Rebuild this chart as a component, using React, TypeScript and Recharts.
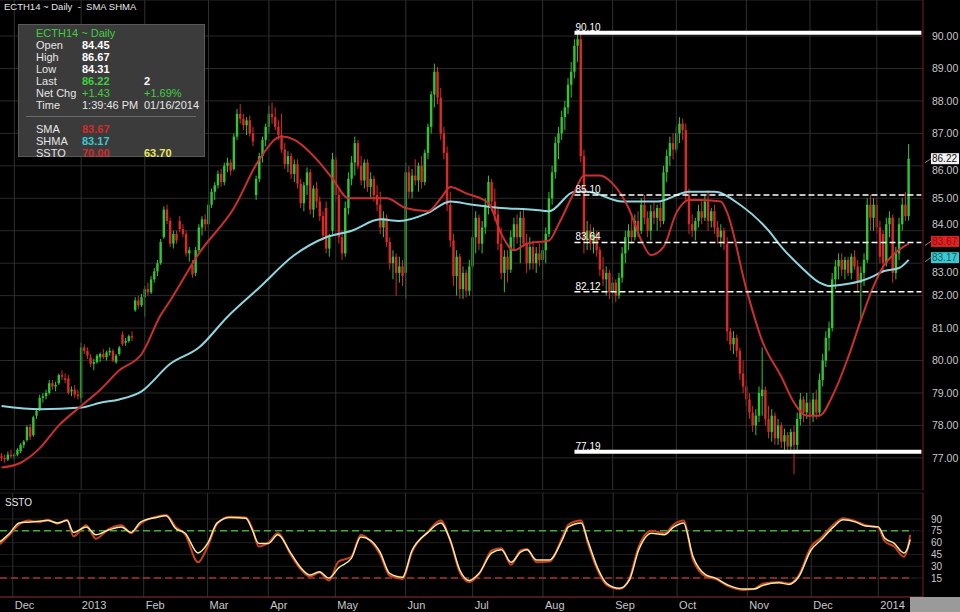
import React from 'react';
import {
  ComposedChart, Bar, Line, XAxis, YAxis, CartesianGrid, ReferenceLine,
} from 'recharts';

// daily candles [open, high, low, close], one array per month
const nov12 = [
  [77.05, 77.15, 76.9, 77.0], [77.0, 77.1, 76.85, 76.95], [76.95, 77.2, 76.9, 77.1], [77.1, 77.25, 77.0, 77.05],
];
const dec12 = [
  [77.05, 77.15, 76.95, 77.1], [77.1, 77.3, 77.05, 77.25], [77.2, 77.45, 77.15, 77.4], [77.4, 77.55, 77.3, 77.5],
  [77.55, 78.0, 77.5, 77.95], [77.95, 78.05, 77.55, 77.65], [77.7, 78.3, 77.65, 78.25], [78.3, 78.5, 78.2, 78.45],
  [78.5, 78.95, 78.45, 78.85], [78.85, 79.0, 78.7, 78.9], [78.9, 79.1, 78.8, 79.0], [79.0, 79.4, 78.95, 79.3],
  [79.3, 79.4, 79.1, 79.2], [79.2, 79.35, 79.05, 79.25], [79.3, 79.6, 79.25, 79.55], [79.55, 79.7, 79.4, 79.5],
  [79.45, 79.6, 79.3, 79.4], [79.45, 79.55, 78.95, 79.0], [79.05, 79.2, 78.9, 79.1], [79.1, 79.25, 78.85, 78.95],
  [78.95, 79.1, 78.8, 78.9],
];
const jan13 = [
  [78.85, 80.55, 78.7, 80.4], [80.4, 80.5, 80.2, 80.3], [80.3, 80.4, 80.05, 80.15], [80.1, 80.2, 79.8, 79.9],
  [79.9, 80.05, 79.7, 79.95], [79.95, 80.2, 79.9, 80.15], [80.1, 80.25, 79.95, 80.2], [80.2, 80.35, 80.05, 80.1],
  [80.1, 80.3, 80.0, 80.25], [80.25, 80.4, 80.15, 80.3], [80.3, 80.35, 79.95, 80.0], [79.95, 80.2, 79.9, 80.15],
  [80.2, 80.45, 80.15, 80.4], [80.8, 80.9, 80.45, 80.5], [80.55, 80.7, 80.45, 80.6], [80.6, 80.8, 80.55, 80.75],
  [80.75, 80.9, 80.6, 80.7], [81.55, 81.95, 81.5, 81.85], [81.85, 82.0, 81.6, 81.7], [81.7, 82.05, 81.65, 81.95],
];
const feb13 = [
  [81.95, 82.3, 81.35, 82.2], [82.2, 82.4, 82.0, 82.1], [82.1, 82.6, 82.05, 82.5], [82.5, 82.85, 82.4, 82.75],
  [82.75, 83.1, 82.6, 83.0], [83.0, 83.75, 82.95, 83.65], [83.8, 84.75, 83.75, 84.65], [84.65, 84.8, 84.2, 84.3],
  [84.3, 84.4, 83.5, 83.6], [83.6, 84.0, 83.45, 83.9], [83.9, 84.0, 83.6, 83.7], [84.3, 84.45, 83.95, 84.05],
  [84.05, 84.2, 83.8, 83.9], [83.9, 84.0, 83.2, 83.3], [83.3, 83.5, 83.05, 83.4], [82.95, 83.1, 82.55, 82.65],
  [82.7, 83.5, 82.6, 83.4], [83.4, 84.2, 83.35, 84.1], [84.1, 84.45, 83.85, 84.35], [84.35, 84.5, 84.0, 84.2],
];
const mar13 = [
  [84.2, 84.9, 84.1, 84.8], [84.8, 85.3, 84.7, 85.2], [85.2, 85.5, 84.95, 85.4], [85.4, 85.85, 85.3, 85.75],
  [85.75, 85.9, 85.35, 85.5], [85.5, 86.1, 85.4, 86.0], [86.0, 86.25, 85.8, 86.1], [86.1, 86.2, 85.7, 85.85],
  [85.9, 87.0, 85.85, 86.9], [86.9, 87.75, 86.8, 87.6], [87.6, 87.9, 87.3, 87.45], [87.45, 87.6, 87.1, 87.25],
  [87.25, 87.5, 86.95, 87.4], [87.4, 87.55, 86.9, 87.0], [87.0, 87.2, 86.6, 86.75], [85.1, 85.7, 84.95, 85.6],
  [85.6, 86.4, 85.5, 86.3], [86.3, 86.9, 86.1, 86.8], [86.8, 87.3, 86.6, 87.2],
];
const apr13 = [
  [87.2, 87.85, 87.0, 87.6], [87.6, 87.95, 87.3, 87.5], [87.5, 87.8, 87.1, 87.2], [87.2, 87.4, 86.8, 86.95],
  [86.95, 87.6, 86.4, 86.5], [86.5, 86.7, 85.9, 86.05], [86.05, 86.45, 85.8, 86.3], [86.3, 86.4, 85.6, 85.75],
  [85.75, 86.2, 85.5, 86.05], [86.05, 86.2, 85.3, 85.45], [85.45, 85.6, 84.7, 84.85], [84.85, 85.5, 84.6, 85.4],
  [85.4, 85.95, 85.1, 85.8], [85.8, 85.9, 84.5, 84.65], [84.65, 85.4, 84.4, 85.3], [85.3, 85.5, 84.7, 84.9],
  [84.9, 85.05, 84.3, 84.45], [84.45, 84.6, 83.7, 83.85], [84.7, 84.9, 83.3, 83.45], [83.45, 83.9, 83.2, 83.8],
  [84.0, 86.4, 83.9, 86.2],
];
const may13 = [
  [86.2, 86.3, 84.9, 85.1], [85.1, 85.3, 83.6, 83.8], [83.8, 84.0, 83.1, 83.3], [83.3, 84.9, 83.2, 84.7],
  [84.7, 85.8, 84.5, 85.6], [85.6, 86.3, 85.4, 86.1], [86.1, 86.9, 85.7, 86.7], [86.7, 86.8, 85.9, 86.0],
  [86.0, 86.3, 85.4, 85.55], [85.55, 86.2, 85.3, 86.1], [86.1, 86.2, 85.2, 85.35], [85.35, 85.8, 85.0, 85.6],
  [85.6, 85.7, 84.9, 85.1], [85.1, 85.4, 84.6, 84.8], [84.8, 85.2, 83.9, 84.1], [84.1, 84.6, 83.8, 84.4],
  [84.4, 84.5, 83.5, 83.65], [83.65, 83.8, 82.8, 83.0], [83.0, 83.4, 82.5, 83.2], [83.2, 83.3, 82.0, 82.7],
  [82.7, 83.2, 82.4, 82.9], [82.9, 83.1, 82.3, 82.6],
];
const jun13 = [
  [82.7, 86.1, 81.9, 85.8], [85.8, 86.0, 85.0, 85.2], [85.2, 85.9, 85.0, 85.7], [85.7, 86.2, 85.4, 85.55],
  [85.55, 86.1, 85.2, 86.0], [86.0, 86.3, 85.3, 85.5], [85.5, 86.5, 85.4, 86.4], [86.4, 87.3, 86.2, 87.2],
  [87.2, 88.3, 87.0, 88.2], [88.2, 89.15, 87.8, 88.9], [88.9, 89.05, 87.9, 88.1], [88.1, 88.4, 86.8, 87.0],
  [87.0, 87.2, 86.2, 86.4], [86.4, 86.6, 84.6, 84.8], [84.8, 85.2, 83.5, 83.7], [83.7, 83.9, 82.3, 82.6],
  [82.6, 83.4, 82.0, 83.2], [83.2, 83.3, 81.9, 82.2], [82.2, 82.9, 81.9, 82.7], [82.7, 82.8, 81.95, 82.15],
  [82.15, 83.1, 82.0, 82.9],
];
const jul13 = [
  [82.9, 84.0, 82.8, 83.8], [83.8, 84.6, 83.3, 84.4], [84.4, 84.5, 83.4, 83.6], [83.6, 84.3, 83.3, 84.1],
  [84.1, 85.0, 83.9, 84.8], [84.8, 85.7, 84.5, 85.5], [85.5, 85.6, 84.6, 84.9], [84.9, 85.3, 84.3, 84.5],
  [84.5, 84.7, 83.4, 83.6], [83.6, 84.1, 82.5, 82.7], [82.7, 83.4, 82.1, 83.2], [83.2, 83.4, 82.4, 82.8],
  [82.8, 84.0, 82.7, 83.8], [83.8, 84.4, 83.4, 84.2], [84.2, 84.5, 83.6, 83.8], [83.8, 84.6, 83.0, 84.4],
  [84.4, 84.7, 83.5, 83.6], [83.6, 83.9, 82.7, 83.0], [83.0, 83.8, 82.8, 83.5], [83.5, 83.7, 82.8, 83.0],
  [83.0, 83.5, 82.7, 83.3], [83.3, 83.6, 82.9, 83.1],
];
const aug13 = [
  [83.1, 83.5, 82.5, 83.4], [83.4, 84.1, 83.0, 83.9], [83.9, 85.2, 83.8, 85.0], [85.0, 86.0, 84.8, 85.8],
  [85.8, 86.9, 85.6, 86.7], [86.7, 87.2, 86.2, 87.0], [87.0, 87.7, 86.8, 87.5], [87.5, 88.0, 87.1, 87.8],
  [87.8, 88.7, 87.6, 88.5], [88.5, 89.2, 88.1, 88.9], [88.9, 89.9, 88.7, 89.7], [89.7, 90.1, 89.2, 89.9],
  [89.9, 90.05, 86.1, 86.3], [86.3, 86.5, 83.3, 83.7], [83.7, 84.3, 83.4, 84.0], [84.0, 84.2, 83.4, 83.6],
  [83.6, 84.1, 83.3, 83.9], [83.9, 84.0, 83.2, 83.4], [83.4, 83.5, 82.6, 82.8], [82.8, 83.2, 82.3, 82.5],
  [82.5, 82.9, 82.0, 82.7], [82.7, 82.8, 81.9, 82.1],
];
const sep13 = [
  [82.1, 82.6, 81.75, 82.4], [82.4, 82.5, 81.8, 82.0], [82.0, 82.7, 81.9, 82.55], [82.55, 83.5, 82.4, 83.3],
  [83.3, 84.0, 83.0, 83.8], [83.8, 84.2, 83.4, 84.0], [84.0, 84.4, 83.6, 83.8], [83.8, 84.5, 83.7, 84.3],
  [84.3, 84.6, 83.8, 84.0], [84.0, 85.0, 83.9, 84.8], [84.8, 85.1, 84.2, 84.4], [84.4, 84.6, 83.8, 84.0],
  [84.0, 84.8, 83.7, 84.6], [84.6, 84.9, 84.2, 84.4], [84.4, 84.8, 84.0, 84.7], [84.7, 84.9, 84.1, 84.3],
  [84.3, 86.0, 84.2, 85.8], [85.8, 86.5, 85.5, 86.3], [86.3, 86.9, 86.0, 86.7], [86.7, 87.0, 86.2, 86.5],
];
const oct13 = [
  [86.5, 87.2, 86.4, 87.0], [87.0, 87.5, 86.7, 87.3], [87.3, 87.45, 86.8, 87.1], [87.1, 87.3, 84.9, 85.1],
  [85.1, 85.3, 83.9, 84.2], [84.2, 84.5, 83.8, 84.0], [84.0, 84.4, 83.7, 84.3], [84.3, 84.8, 84.1, 84.6],
  [84.6, 84.9, 84.2, 84.4], [84.4, 85.1, 84.3, 84.9], [84.9, 85.25, 84.0, 84.3], [84.3, 84.7, 84.1, 84.6],
  [84.6, 84.8, 83.9, 84.1], [84.1, 84.3, 83.6, 83.8], [83.8, 84.2, 83.5, 84.0], [84.0, 84.1, 83.4, 83.6],
  [83.6, 83.8, 80.6, 80.9], [80.9, 81.0, 80.3, 80.5], [80.5, 80.9, 80.2, 80.7], [80.7, 80.8, 80.1, 80.3],
  [80.3, 80.4, 79.4, 79.6], [79.6, 80.0, 79.0, 79.2],
];
const nov13 = [
  [79.2, 79.4, 78.6, 78.8], [78.8, 79.0, 78.2, 78.4], [78.4, 78.6, 77.8, 78.0], [78.0, 78.5, 77.7, 78.3],
  [78.3, 79.2, 78.1, 79.0], [78.9, 80.4, 78.3, 79.1], [79.1, 79.2, 78.0, 78.2], [78.2, 78.6, 77.6, 77.8],
  [77.8, 78.5, 77.5, 78.3], [78.3, 78.4, 77.4, 77.6], [77.6, 78.2, 77.4, 78.0], [78.0, 78.1, 77.3, 77.5],
  [77.5, 77.9, 77.2, 77.7], [77.7, 77.8, 77.2, 77.35], [77.35, 77.9, 77.2, 77.8], [77.8, 78.0, 76.5, 77.4],
  [77.4, 78.4, 77.2, 78.2], [78.2, 79.0, 78.0, 78.8], [78.8, 78.9, 78.1, 78.4], [78.4, 79.0, 78.2, 78.7],
];
const dec13 = [
  [78.7, 78.8, 78.0, 78.3], [78.3, 79.0, 78.1, 78.8], [78.8, 79.1, 78.2, 78.4], [78.4, 79.6, 78.3, 79.4],
  [79.4, 80.2, 79.2, 80.0], [80.0, 80.9, 79.8, 80.7], [80.7, 81.2, 80.3, 81.0], [81.0, 82.7, 80.9, 82.5],
  [82.5, 83.1, 82.2, 82.9], [82.9, 83.3, 82.5, 83.1], [83.1, 83.3, 82.6, 82.8], [82.8, 83.2, 82.5, 83.1],
  [83.1, 83.2, 82.6, 82.7], [82.7, 83.3, 82.5, 83.2], [83.2, 83.4, 82.8, 82.9], [82.9, 83.1, 82.1, 82.4],
  [82.4, 82.9, 81.3, 82.7], [82.7, 83.3, 82.3, 83.1], [83.1, 85.0, 83.0, 84.8], [84.8, 85.1, 84.0, 84.4],
  [84.4, 85.0, 84.0, 84.8],
];
const jan14 = [
  [84.8, 85.0, 83.9, 84.1], [84.1, 84.3, 83.0, 83.2], [83.9, 84.0, 82.7, 83.0], [83.0, 84.4, 82.9, 84.2],
  [84.2, 84.6, 83.8, 84.4], [84.4, 84.5, 82.4, 82.7], [82.7, 83.5, 82.5, 83.3], [83.3, 84.4, 83.1, 84.2],
  [84.2, 85.0, 84.0, 84.8], [84.8, 85.2, 84.3, 84.45], [84.45, 86.67, 84.31, 86.22],
];

// moving averages: [day index, value]
const smaPts = [
  [0, 76.7], [6, 76.85], [12, 77.3], [18, 78.0], [25, 78.6], [31, 79.1], [37, 79.7], [44, 80.2],
  [50, 81.4], [53, 81.85], [62, 83.3], [73, 84.7], [81, 86.2], [88, 86.9], [92, 86.8], [99, 86.2],
  [104, 85.6], [109, 85.0], [115, 85.0], [121, 85.0], [127, 84.7], [134, 84.6], [138, 85.0], [141, 85.35],
  [146, 85.15], [153, 84.85], [157, 83.9], [161, 83.4], [165, 83.6], [172, 83.7], [175, 84.2], [180, 85.2],
  [183, 85.7], [188, 85.7], [192, 85.45], [197, 84.7], [201, 83.7], [204, 83.25], [208, 83.5], [212, 84.55],
  [216, 84.95], [220, 84.95], [226, 84.9], [228, 84.55], [234, 82.2], [239, 80.6], [245, 79.5], [249, 78.7],
  [253, 78.3], [257, 78.3], [261, 78.9], [266, 80.1], [270, 81.25], [274, 82.3], [277, 82.9], [280, 83.25],
  [285, 83.6],
];
const shmaPts = [
  [0, 78.6], [12, 78.5], [25, 78.55], [31, 78.7], [37, 78.8], [44, 79.05], [53, 79.9], [62, 80.4],
  [71, 81.35], [81, 82.25], [92, 83.25], [102, 83.8], [110, 84.0], [119, 84.35], [125, 84.3], [134, 84.55],
  [141, 84.9], [148, 84.8], [157, 84.7], [167, 84.65], [172, 84.6], [180, 85.2], [184, 85.2], [195, 84.9],
  [206, 84.9], [216, 85.2], [224, 85.2], [232, 84.8], [241, 84.0], [245, 83.5], [251, 82.9], [257, 82.4],
  [260, 82.3], [265, 82.35], [270, 82.45], [274, 82.6], [277, 82.75], [282, 82.85], [285, 83.1],
];

// slow stochastic, two lines
const sstoK = [
  [0, 61], [3, 72], [6, 85], [9, 86], [12, 87], [15, 88], [18, 85], [21, 88], [23, 73], [27, 80], [30, 70],
  [34, 76], [38, 80], [41, 73], [44, 86], [49, 92], [52, 94], [55, 78], [58, 72], [62, 47], [65, 59], [68, 85],
  [72, 92], [77, 91], [79, 76], [81, 59], [84, 59], [87, 70], [91, 47], [94, 29], [97, 19], [100, 23], [103, 15],
  [106, 28], [110, 40], [113, 67], [116, 63], [119, 48], [122, 21], [126, 16], [129, 50], [134, 73], [138, 85],
  [141, 63], [144, 25], [147, 12], [150, 21], [154, 47], [157, 51], [160, 35], [163, 48], [165, 51], [168, 38],
  [172, 38], [176, 63], [178, 80], [182, 85], [184, 63], [187, 29], [190, 8], [194, 2], [197, 12], [200, 51],
  [204, 72], [208, 70], [211, 80], [214, 85], [217, 42], [221, 19], [224, 15], [228, 6], [233, 1], [236, 1],
  [239, 6], [244, 9], [247, 7], [250, 16], [254, 51], [257, 63], [261, 80], [264, 89], [268, 86], [271, 81],
  [275, 80], [277, 66], [280, 59], [283, 47], [284, 51], [285, 64],
];
const sstoD = [
  [0, 58], [3, 70], [6, 83], [9, 88], [12, 86], [15, 89], [18, 84], [21, 89], [23, 68], [27, 82], [30, 65],
  [34, 77], [38, 82], [41, 72], [44, 84], [49, 93], [52, 95], [55, 80], [58, 70], [62, 35], [65, 55], [68, 84],
  [72, 93], [77, 92], [79, 78], [81, 55], [84, 60], [87, 72], [91, 45], [94, 27], [97, 17], [100, 22], [103, 12],
  [106, 36], [110, 42], [113, 70], [116, 62], [119, 45], [122, 18], [126, 14], [129, 48], [134, 74], [138, 88],
  [141, 62], [144, 22], [147, 10], [150, 20], [154, 50], [157, 53], [160, 32], [163, 50], [165, 52], [168, 35],
  [172, 36], [176, 66], [178, 83], [182, 88], [184, 60], [187, 26], [190, 6], [194, 1], [197, 14], [200, 55],
  [204, 75], [208, 72], [211, 83], [214, 88], [217, 38], [221, 17], [224, 14], [228, 5], [233, 0], [236, 1],
  [239, 8], [244, 10], [247, 8], [250, 18], [254, 55], [257, 66], [261, 83], [264, 91], [268, 87], [271, 82],
  [275, 79], [277, 62], [280, 55], [283, 42], [284, 50], [285, 70],
];

const monthIdx = [4, 25, 45, 65, 84, 105, 127, 148, 170, 192, 212, 234, 254, 275];
const monthLabels = ['Dec', '2013', 'Feb', 'Mar', 'Apr', 'May', 'Jun', 'Jul', 'Aug', 'Sep', 'Oct', 'Nov', 'Dec', '2014'];
const priceTicks = [77, 78, 79, 80, 81, 82, 83, 84, 85, 86, 87, 88, 89, 90];
const sstoTicks = [15, 30, 45, 60, 75, 90];
const levels = [
  { v: 90.1, text: '90.10', solid: true },
  { v: 85.1, text: '85.10', solid: false },
  { v: 83.64, text: '83.64', solid: false },
  { v: 82.12, text: '82.12', solid: false },
  { v: 77.19, text: '77.19', solid: true },
];
const LEVEL_FROM = 180;
const SLOTS = 290;

const candles = [
  ...nov12, ...dec12, ...jan13, ...feb13, ...mar13, ...apr13, ...may13, ...jun13,
  ...jul13, ...aug13, ...sep13, ...oct13, ...nov13, ...dec13, ...jan14,
];
const smaMap = new Map(smaPts.map(([i, v]) => [i, v]));
const shmaMap = new Map(shmaPts.map(([i, v]) => [i, v]));
const kMap = new Map(sstoK.map(([i, v]) => [i, v]));
const dMap = new Map(sstoD.map(([i, v]) => [i, v]));

const rows = Array.from({ length: SLOTS }, (_, i) => {
  const cd = candles[i];
  return {
    i,
    o: cd ? cd[0] : null,
    h: cd ? cd[1] : null,
    l: cd ? cd[2] : null,
    c: cd ? cd[3] : null,
    range: cd ? [cd[2], cd[1]] : null,
    sma: smaMap.has(i) ? smaMap.get(i) : null,
    shma: shmaMap.has(i) ? shmaMap.get(i) : null,
    k: kMap.has(i) ? kMap.get(i) : null,
    d: dMap.has(i) ? dMap.get(i) : null,
  };
});

const FONT = '"Liberation Sans", Arial, sans-serif';
const GREEN = '#33c433';
const RED = '#d92a2a';

const Candle = (props: any) => {
  const { x, y, width, height, payload } = props;
  if (!payload || payload.o == null) return null;
  const { o, h, l, c } = payload;
  const top = Math.min(y, y + height);
  const hgt = Math.abs(height);
  const k = h - l > 0 ? hgt / (h - l) : 0;
  const yO = top + (h - o) * k;
  const yC = top + (h - c) * k;
  const color = c >= o ? GREEN : RED;
  const cx = x + width / 2;
  return (
    <g>
      <line x1={cx} x2={cx} y1={top} y2={top + Math.max(hgt, 1)} stroke={color} strokeWidth={1} />
      <rect x={cx - 1.2} y={Math.min(yO, yC)} width={2.4} height={Math.max(1, Math.abs(yC - yO))} fill={color} />
    </g>
  );
};

const badge = (text: string, bg: string, fg: string) => (props: any) => {
  const vb = props.viewBox;
  if (!vb) return null;
  const x = vb.x + vb.width + 8;
  return (
    <g>
      <line x1={vb.x + vb.width + 2} y1={vb.y + 4} x2={x} y2={vb.y} stroke="#888" />
      <rect x={x} y={vb.y - 5.5} width={28} height={11} fill={bg} />
      <text x={x + 1} y={vb.y + 3.5} fontSize={10} fill={fg} fontFamily={FONT}>{text}</text>
    </g>
  );
};

const levelLabel = (text: string) => (props: any) => {
  const vb = props.viewBox;
  if (!vb) return null;
  return (
    <text x={vb.x + 1} y={vb.y - 2} fontSize={10} fill="#fff" fontFamily={FONT}>{text}</text>
  );
};

const MonthTick = (props: any) => {
  const { x, y, payload } = props;
  const n = monthIdx.indexOf(payload.value);
  return (
    <text x={x + 2} y={y + 12} fill="#c8c8c8" fontSize={11} fontFamily={FONT} textAnchor="start">
      {n >= 0 ? monthLabels[n] : ''}
    </text>
  );
};

// price labels on the right; 86, 84 and 83 sit next to the value badges,
// so they are nudged away from them
const PriceTick = (props: any) => {
  const { x, y, payload } = props;
  const v = payload.value;
  const shift = v === 86 ? 4 : v === 84 ? -6 : v === 83 ? 9 : 0;
  return (
    <text x={x} y={y + shift} dy="0.355em" fill="#c8c8c8" fontSize={10.5} fontFamily={FONT} textAnchor="start">
      {v.toFixed(2)}
    </text>
  );
};

const infoRow: React.CSSProperties = { height: 12, lineHeight: '12px', display: 'flex' };

const InfoBox = () => (
  <div style={{
    position: 'absolute', left: 18, top: 24, width: 187, height: 133, background: '#3b3b3b',
    border: '1px solid #5a5a5a', fontFamily: FONT, fontSize: 11, color: '#e6e6e6', boxSizing: 'border-box',
    padding: '2px 0 0 17px',
  }}>
    <div style={{ ...infoRow, color: '#3fcf3f' }}>ECTH14 ~ Daily</div>
    {[
      ['Open', '84.45', '', '#fff', ''],
      ['High', '86.67', '', '#fff', ''],
      ['Low', '84.31', '', '#fff', ''],
      ['Last', '86.22', '2', '#3fcf3f', '#fff'],
      ['Net Chg', '+1.43', '+1.69%', '#3fcf3f', '#3fcf3f'],
      ['Time', '1:39:46 PM', '01/16/2014', '#e6e6e6', '#e6e6e6'],
    ].map(([a, b, c, cb, cc]) => (
      <div key={a} style={infoRow}>
        <span style={{ width: 46 }}>{a}</span>
        <span style={{ width: 62, color: cb, fontWeight: c === '' || a === 'Last' ? 'bold' : 'normal' }}>{b}</span>
        <span style={{ color: cc, fontWeight: a === 'Last' ? 'bold' : 'normal' }}>{c}</span>
      </div>
    ))}
    <div style={{ height: 1, background: '#6a6a6a', margin: '5px 8px 6px -10px' }} />
    {[
      ['SMA', '83.67', '', '#d42a2a'],
      ['SHMA', '83.17', '', '#3cc8d0'],
      ['SSTO', '70.00', '63.70', '#d42a2a'],
    ].map(([a, b, c, cb]) => (
      <div key={a} style={infoRow}>
        <span style={{ width: 46 }}>{a}</span>
        <span style={{ width: 62, color: cb, fontWeight: 'bold' }}>{b}</span>
        <span style={{ color: '#e8e85a', fontWeight: 'bold' }}>{c}</span>
      </div>
    ))}
  </div>
);

const lineProps = { type: 'monotone' as const, dot: false, activeDot: false, connectNulls: true, isAnimationActive: false };

export default function App() {
  return (
    <div style={{ position: 'fixed', left: 0, top: 0, width: 960, height: 612, background: '#000', overflow: 'hidden' }}>
      <div style={{ position: 'absolute', left: 0, top: 0 }}>
        <ComposedChart width={960} height={490} data={rows} margin={{ top: 0, right: 0, bottom: 0, left: 0 }} barCategoryGap={0}>
          <CartesianGrid vertical={false} stroke="#2a2a2a" />
          <XAxis dataKey="i" type="category" hide />
          <YAxis
            orientation="right" width={37} domain={[76.01, 91.11]} ticks={priceTicks} interval={0}
            tickLine={false} tickSize={0} tickMargin={9}
            axisLine={{ stroke: '#7a1e1e' }} tick={<PriceTick />}
            allowDataOverflow
          />
          {monthIdx.map((m) => (
            <ReferenceLine key={'m' + m} x={m} stroke="#303030" />
          ))}
          <Bar dataKey="range" shape={<Candle />} isAnimationActive={false} />
          <Line dataKey="shma" stroke="#8fd6de" strokeWidth={2} {...lineProps} />
          <Line dataKey="sma" stroke="#cc2f2f" strokeWidth={2} {...lineProps} />
          {levels.map((lv) => (
            <ReferenceLine
              key={lv.text}
              segment={[{ x: LEVEL_FROM, y: lv.v }, { x: SLOTS - 1, y: lv.v }]}
              stroke="#fff"
              strokeWidth={lv.solid ? 4 : 1.5}
              strokeDasharray={lv.solid ? undefined : '6 3'}
              label={levelLabel(lv.text)}
            />
          ))}
          <ReferenceLine y={86.22} stroke="none" label={badge('86.22', '#f2f2f2', '#111')} />
          <ReferenceLine y={83.67} stroke="none" label={badge('83.67', '#e02222', '#8a1010')} />
          <ReferenceLine y={83.17} stroke="none" label={badge('83.17', '#3cc8d0', '#0f5e66')} />
        </ComposedChart>
      </div>
      <div style={{ position: 'absolute', left: 0, top: 490 }}>
        <ComposedChart width={960} height={122} data={rows} margin={{ top: 3, right: 0, bottom: 0, left: 0 }}>
          <CartesianGrid vertical={false} stroke="#1f1f1f" />
          <XAxis
            dataKey="i" type="category" ticks={monthIdx} interval={0} height={15} tickLine={false}
            tickSize={0} tickMargin={0} axisLine={{ stroke: '#8a2020' }} tick={<MonthTick />}
          />
          <YAxis
            orientation="right" width={37} domain={[-9, 123]} ticks={sstoTicks} interval={0} tickLine={false}
            tickSize={0} tickMargin={8} axisLine={{ stroke: '#7a1e1e' }}
            tick={{ fill: '#c8c8c8', fontSize: 10, fontFamily: FONT, textAnchor: 'start' }} allowDataOverflow
          />
          {monthIdx.map((m) => (
            <ReferenceLine key={'s' + m} x={m} stroke="#303030" />
          ))}
          <ReferenceLine segment={[{ x: 0, y: 75 }, { x: 286, y: 75 }]} stroke="#45a83a" strokeWidth={1.5} strokeDasharray="7 4" />
          <ReferenceLine segment={[{ x: 0, y: 15 }, { x: 286, y: 15 }]} stroke="#a8302c" strokeWidth={1.5} strokeDasharray="7 4" />
          <Line dataKey="d" stroke="#c8401e" strokeWidth={2} {...lineProps} />
          <Line dataKey="k" stroke="#f4eaa0" strokeWidth={1.5} {...lineProps} />
        </ComposedChart>
      </div>
      <div style={{ position: 'absolute', left: 5, top: 497, color: '#e6e6e6', fontFamily: FONT, fontSize: 10 }}>SSTO</div>
      <div style={{ position: 'absolute', left: 4, top: 1, color: '#e6e6e6', fontFamily: FONT, fontSize: 9.5 }}>
        ECTH14 ~ Daily&nbsp; -&nbsp; SMA SHMA
      </div>
      <div style={{ position: 'absolute', left: 910, top: 597, width: 50, height: 15, background: '#9a9a9a' }} />
      <InfoBox />
    </div>
  );
}
